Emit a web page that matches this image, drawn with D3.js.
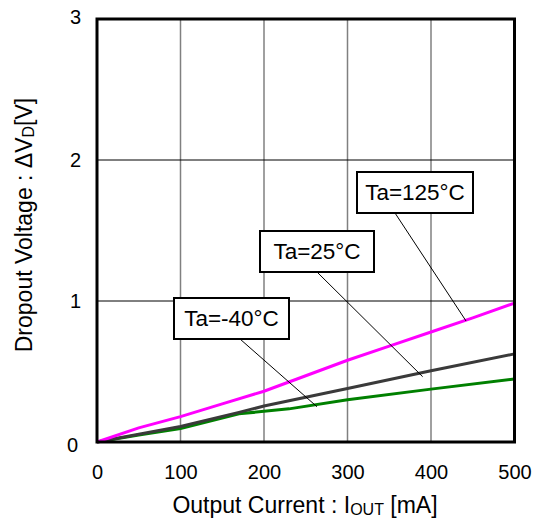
<!DOCTYPE html>
<html><head><meta charset="utf-8">
<script src="https://cdn.jsdelivr.net/npm/d3@7"></script>
<style>body{margin:0;background:#fff}svg{display:block}text{font-family:"Liberation Sans",Arial,sans-serif;fill:#000}</style>
</head><body><svg id="c" width="544" height="522"></svg>
<script>
const xTicks = [0,100,200,300,400,500];
const yTicks = [0,1,2,3];
const seriesNames = ["Ta=125°C","Ta=25°C","Ta=-40°C"];
const seriesColors = ["#ff00ff","#3a3a3a","#008000"];
const x125 = [0,50,100,150,200,250,300,350,400,450,500];
const y125 = [0,0.10,0.18,0.27,0.36,0.47,0.58,0.68,0.78,0.88,0.985];
const x25 = [0,50,100,170,200,300,400,500];
const y25 = [0,0.055,0.11,0.21,0.255,0.38,0.505,0.625];
const xm40 = [0,50,100,170,230,300,400,500];
const ym40 = [0,0.05,0.095,0.2,0.235,0.3,0.375,0.447];
// label pointer targets (data coords)
const labelPtr = [[442,0.858],[390,0.463],[263.5,0.25]];

const svg = d3.select("#c");
const L=97,R=514.5,T=19,B=442;
const x = d3.scaleLinear().domain([0,500]).range([L,R]);
const y = d3.scaleLinear().domain([0,3]).range([B,T]);

// grid
svg.append("g").selectAll("line").data(xTicks.slice(1,-1)).join("line")
  .attr("x1",d=>x(d)).attr("x2",d=>x(d)).attr("y1",T).attr("y2",B)
  .attr("stroke","#808080").attr("stroke-width",1.5);
svg.append("g").selectAll("line").data(yTicks.slice(1,-1)).join("line")
  .attr("y1",d=>y(d)).attr("y2",d=>y(d)).attr("x1",L).attr("x2",R)
  .attr("stroke","#000").attr("stroke-width",1);

// axes labels via d3 axes
const xa = svg.append("g").attr("transform",`translate(0,${B})`)
  .call(d3.axisBottom(x).tickValues(xTicks).tickSize(0).tickPadding(23));
xa.select(".domain").remove();
xa.selectAll("text").attr("font-size",20).attr("font-family","Liberation Sans, Arial");
const ya = svg.append("g").attr("transform",`translate(${L},0)`)
  .call(d3.axisLeft(y).tickValues(yTicks).tickSize(0).tickPadding(16).tickFormat(d3.format("d")));
ya.select(".domain").remove();
ya.selectAll("text").attr("font-size",20).attr("font-family","Liberation Sans, Arial");
ya.selectAll(".tick").filter(d=>d===0).select("text").attr("x",-19).attr("dy","0.45em");
ya.selectAll(".tick").filter(d=>d===3).select("text").attr("dy","0.2em");

// lines
const series = [[x125,y125],[x25,y25],[xm40,ym40]];
const line = d3.line().x(d=>x(d[0])).y(d=>y(d[1]));
[2,1,0].forEach(i=>{
  const pts = series[i][0].map((v,j)=>[v,series[i][1][j]]);
  svg.append("path").datum(pts).attr("d",line).attr("fill","none")
    .attr("stroke",seriesColors[i]).attr("stroke-width",3);
});

// frame
svg.append("rect").attr("x",L).attr("y",T).attr("width",R-L).attr("height",B-T)
  .attr("fill","none").attr("stroke","#000").attr("stroke-width",3);

// labels
const boxes = [[357,172,116],[260,231,114],[174,298,115]];
const leadX = [395,317,240];
const bh=41;
seriesNames.forEach((n,i)=>{
  const [bx,by,bw]=boxes[i];
  const [px,py]=labelPtr[i];
  svg.append("line").attr("x1",leadX[i]).attr("y1",by+bh).attr("x2",x(px)).attr("y2",y(py))
    .attr("stroke","#000").attr("stroke-width",1);
  svg.append("rect").attr("x",bx).attr("y",by).attr("width",bw).attr("height",bh)
    .attr("fill","#fff").attr("stroke","#000").attr("stroke-width",2);
  svg.append("text").attr("x",bx+bw/2).attr("y",by+27.5).attr("text-anchor","middle")
    .attr("font-size",22.5).text(n);
});

// axis titles
const xt = svg.append("text").attr("x",305).attr("y",512.5).attr("text-anchor","middle").attr("font-size",23);
xt.append("tspan").text("Output Current : I");
xt.append("tspan").attr("font-size",16).attr("dy",2).text("OUT");
xt.append("tspan").attr("dy",-2).text(" [mA]");
const yt = svg.append("text").attr("transform","translate(32,225) rotate(-90)").attr("text-anchor","middle").attr("font-size",23);
yt.append("tspan").text("Dropout Voltage : ΔV");
yt.append("tspan").attr("font-size",16).attr("dy",2).text("D");
yt.append("tspan").attr("dy",-2).text("[V]");
</script></body></html>
